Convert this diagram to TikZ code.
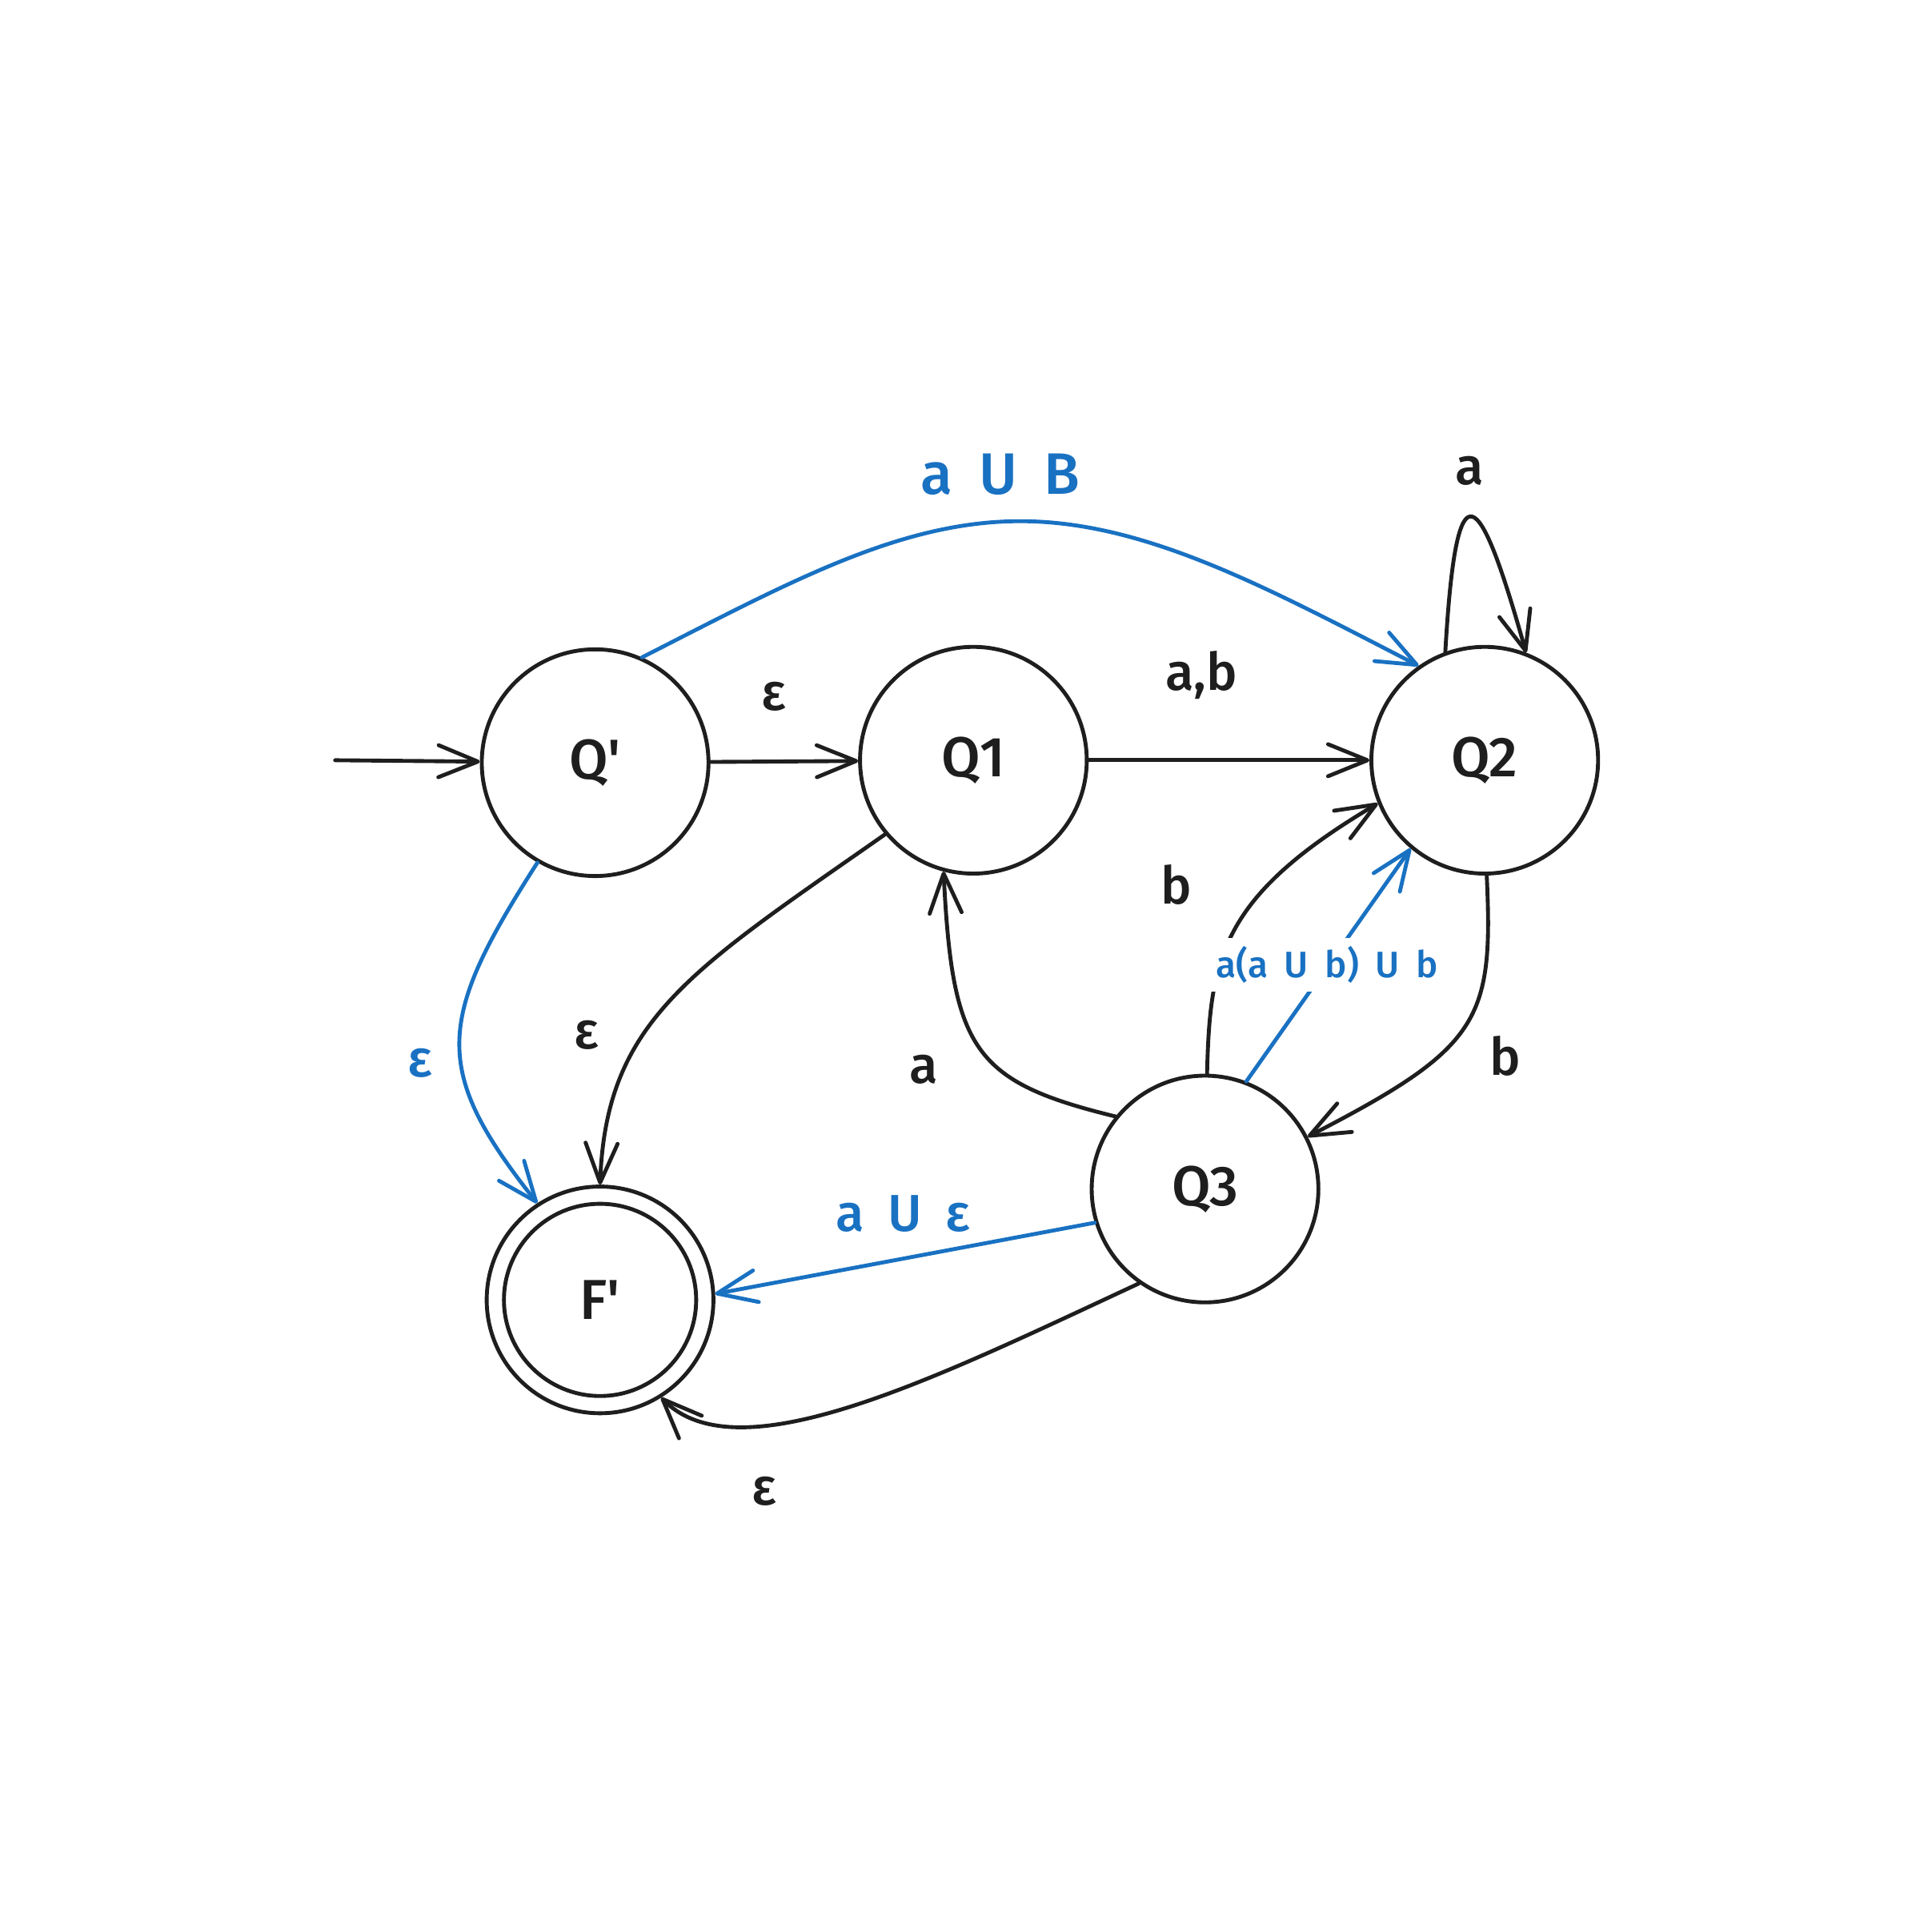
\documentclass[tikz,border=0pt]{standalone}
\usepackage{fontspec}
\setmainfont{Fira Sans}[BoldFont={Fira Sans Medium}]
\usetikzlibrary{arrows.meta}
\definecolor{ink}{HTML}{1E1E1E}
\definecolor{blu}{HTML}{1971C2}
\begin{document}
\begin{tikzpicture}[x=0.1mm,y=0.1mm,
  state/.style={circle,draw=ink,line width=0.9pt,minimum size=18.4mm,inner sep=0pt,
    font=\fontsize{13}{15}\selectfont\bfseries,text=ink},
  edge/.style={draw=ink,line width=0.9pt,line cap=round,
    -{Straight Barb[length=3.2mm,width=2.6mm,round]}},
  bedge/.style={edge,draw=blu},
  lbl/.style={font=\fontsize{12}{14}\selectfont\bfseries,text=ink,inner sep=1pt},
  blbl/.style={lbl,text=blu},
]
\useasboundingbox (0,0) rectangle (1568,1568);
\newcommand{\wsp}{\hspace{0.45em}}

% states
\node[state] (Qp) at (483,949) {Q\textquotesingle};
\node[state] (Q1) at (790,951) {Q1};
\node[state] (Q2) at (1205,951) {Q2};
\node[state] (Q3) at (978,603) {Q3};
\node[state] (Fp) at (487,513) {F\textquotesingle};
\node[circle,draw=ink,line width=0.9pt,minimum size=15.6mm,inner sep=0pt] (Fpin) at (Fp) {};

% start
\coordinate (start) at (272,951);
\draw[edge] (start) -- (Qp);

% straight edges
\draw[edge] (Qp) -- (Q1);
\draw[edge] (Q1) -- (Q2);

% Q' -> Q2 (blue arc)
\coordinate (arcTop) at (828,1145);
\draw[bedge] (Qp.66) .. controls (640,1095) and (730,1145) .. (arcTop)
  .. controls (930,1145) and (1030,1090) .. (Q2.125);

% self loop on Q2
\draw[edge] (Q2.110) .. controls (1182,1195) and (1200,1175) .. (Q2.69);

% Q2 -> Q3
\draw[edge] (Q2.-89) .. controls (1212,740) and (1202,718) .. (Q3.27);

% Q3 -> Q2 (black)
\draw[edge] (Q3.89) .. controls (982,790) and (990,840) .. (Q2.202);

% Q3 -> Q2 (blue straight)
\draw[bedge] (Q3.69) -- (Q2.230);

% Q3 -> Q1
\draw[edge] (Q3.141) .. controls (790,690) and (773,716) .. (Q1.255);

% Q1 -> F'
\draw[edge] (Q1.220) .. controls (560,780) and (492,740) .. (Fp.90);

% Q' -> F' (blue)
\draw[bedge] (Qp.240) .. controls (354,740) and (350,700) .. (Fp.123);

% Q3 -> F' (blue straight)
\draw[bedge] (Q3.197) -- (Fp.3);

% Q3 -> F' (black)
\draw[edge] (Q3.235) .. controls (760,450) and (600,370) .. (Fp.-58);

% labels
\node[lbl] (lQpQ1) at (628,1003) {ε};
\node[lbl] (lQ1Q2) at (975,1020) {a,b};
\node[blbl,font=\fontsize{13.5}{15}\selectfont\bfseries] (lQpQ2) at (812,1183) {a\wsp U\wsp B};
\node[lbl] (lQ2Q2) at (1193,1186) {a};
\node[lbl] (lQ2Q3) at (1222,711) {b};
\node[lbl] (lQ3Q2) at (955,850) {b};
\node[blbl,font=\fontsize{8.5}{10}\selectfont\bfseries,fill=white,inner sep=2pt] (lQ3Q2b) at (1077,785) {a(a\wsp U\wsp b)\wsp U\wsp b};
\node[lbl] (lQ3Q1) at (750,700) {a};
\node[lbl] (lQ1Fp) at (476,728) {ε};
\node[blbl] (lQpFp) at (341,705) {ε};
\node[blbl] (lQ3Fpb) at (733,583) {a\wsp U\wsp ε};
\node[lbl] (lQ3Fp) at (620,358) {ε};
\end{tikzpicture}
\end{document}
